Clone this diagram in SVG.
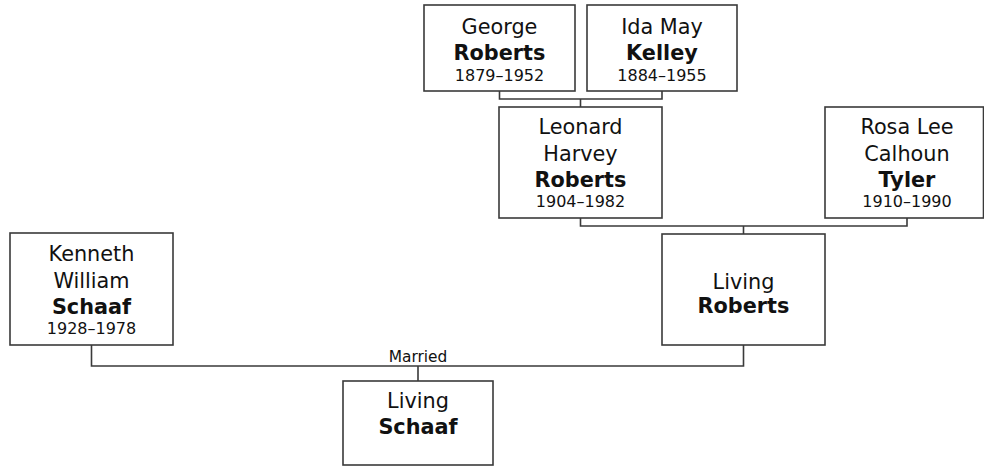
<svg xmlns="http://www.w3.org/2000/svg" width="984" height="466" viewBox="0 0 984 466">
<style>
.box{fill:#fff;stroke:#3a3a3a;stroke-width:1.6}
.ln{fill:none;stroke:#3a3a3a;stroke-width:1.6}
text{font-family:"DejaVu Sans",Verdana,sans-serif;fill:#111;text-anchor:middle}
.n{font-size:20.8px}
.b{font-size:20.8px;font-weight:bold}
.d{font-size:16px}
.m{font-size:15.4px}
</style>
<rect width="984" height="466" fill="#fff"/>
<g id="connectors">
<path class="ln" d="M499.5 91 V99 H662 V91 M580.5 99 V107"/>
<path class="ln" d="M580.5 218 V226 H907 V218 M743.5 226 V234"/>
<path class="ln" d="M91.5 345 V366 H743.5 V345 M418 366 V381"/>
<text class="m" x="418" y="362">Married</text>
</g>
<g id="george">
<rect class="box" x="424" y="5" width="151" height="86"/>
<text class="n" x="499.5" y="34">George</text>
<text class="b" x="499.5" y="60">Roberts</text>
<text class="d" x="499.5" y="81">1879–1952</text>
</g>
<g id="ida">
<rect class="box" x="587" y="5" width="150" height="86"/>
<text class="n" x="662" y="34">Ida May</text>
<text class="b" x="662" y="60">Kelley</text>
<text class="d" x="662" y="81">1884–1955</text>
</g>
<g id="leonard">
<rect class="box" x="499" y="107" width="163" height="111"/>
<text class="n" x="580.5" y="134">Leonard</text>
<text class="n" x="580.5" y="161">Harvey</text>
<text class="b" x="580.5" y="187">Roberts</text>
<text class="d" x="580.5" y="207">1904–1982</text>
</g>
<g id="rosa">
<rect class="box" x="825" y="107" width="158.5" height="111"/>
<text class="n" x="907" y="134">Rosa Lee</text>
<text class="n" x="907" y="161">Calhoun</text>
<text class="b" x="907" y="187">Tyler</text>
<text class="d" x="907" y="207">1910–1990</text>
</g>
<g id="kenneth">
<rect class="box" x="10" y="233" width="163" height="112"/>
<text class="n" x="91.5" y="261">Kenneth</text>
<text class="n" x="91.5" y="288">William</text>
<text class="b" x="91.5" y="314">Schaaf</text>
<text class="d" x="91.5" y="334">1928–1978</text>
</g>
<g id="living-roberts">
<rect class="box" x="662" y="234" width="163" height="111"/>
<text class="n" x="743.5" y="289">Living</text>
<text class="b" x="743.5" y="313">Roberts</text>
</g>
<g id="living-schaaf">
<rect class="box" x="343" y="381" width="150" height="84"/>
<text class="n" x="418" y="408">Living</text>
<text class="b" x="418" y="434">Schaaf</text>
</g>
</svg>
